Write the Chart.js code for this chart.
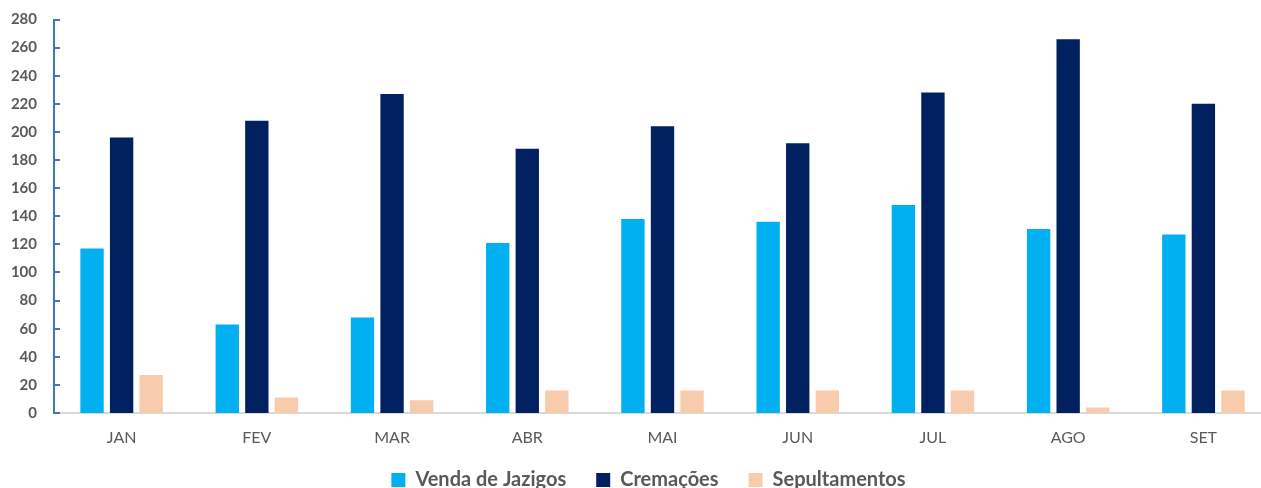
<!DOCTYPE html>
<html>
<head>
<meta charset="utf-8">
<script src="https://cdn.jsdelivr.net/npm/chart.js@4.4.0/dist/chart.umd.min.js"></script>
<style>
  html, body { margin: 0; padding: 0; background: #ffffff; overflow: hidden; }
  #wrap { position: relative; width: 1271px; height: 488px; }
</style>
</head>
<body>
<div id="wrap"><canvas id="chart"></canvas></div>
<script>
// Data ------------------------------------------------------------------------------

const MONTHS = ['JAN', 'FEV', 'MAR', 'ABR', 'MAI', 'JUN', 'JUL', 'AGO', 'SET'];

const VENDA_JAZIGOS = [117, 63, 68, 121, 138, 136, 148, 131, 127];
const CREMACOES = [196, 208, 227, 188, 204, 192, 228, 266, 220];
const SEPULTAMENTOS = [27, 11, 9, 16, 16, 16, 16, 4, 16];

const Y_MIN = 0;
const Y_MAX = 280;
const Y_STEP = 20;

// Styles ----------------------------------------------------------------------------

const FONT = 'Lato, "Open Sans", sans-serif';
const TEXT_GRAY = '#595959';
const AXIS_BLUE = '#4472C4';

const LEGEND_HEIGHT = 35;
const LEGEND_TOP = 440;
const LEGEND_SHIFT_X = 13;

// y axis tick marks drawn on the inside of the axis line
const innerTicks = {
    id: 'innerTicks',
    afterDraw: function (chart) {
        let y = chart.scales.y;
        let ctx = chart.ctx;
        ctx.save();
        ctx.strokeStyle = AXIS_BLUE;
        ctx.lineWidth = 2;
        y.ticks.forEach(function (t) {
            let py = Math.round(y.getPixelForValue(t.value));
            ctx.beginPath();
            ctx.moveTo(y.right, py);
            ctx.lineTo(y.right + 6, py);
            ctx.stroke();
        });
        ctx.restore();
    }
};

// small legend box in the layout, drawn a bit lower and to the right
const legendTweak = {
    id: 'legendTweak',
    beforeInit: function (chart) {
        let lg = chart.legend;
        let fit = lg.fit;
        lg.fit = function () {
            fit.call(this);
            this.height = LEGEND_HEIGHT;
        };
        let draw = lg.draw;
        lg.draw = function () {
            let saved = { top: this.top, left: this.left, right: this.right, bottom: this.bottom };
            this.top = LEGEND_TOP;
            this.bottom = chart.height;
            this.left += LEGEND_SHIFT_X;
            this.right += LEGEND_SHIFT_X;
            draw.apply(this, arguments);
            Object.assign(this, saved);
        };
    }
};

let data = {
    labels: MONTHS,
    datasets: [
        { label: 'Venda de Jazigos', data: VENDA_JAZIGOS, backgroundColor: '#00B0F0' },
        { label: 'Cremações', data: CREMACOES, backgroundColor: '#002060' },
        { label: 'Sepultamentos', data: SEPULTAMENTOS, backgroundColor: '#F8CBAD' }
    ]
};

new Chart(document.getElementById('chart'), {
    type: 'bar',
    data: data,
    plugins: [innerTicks, legendTweak],
    options: {
        responsive: true,
        maintainAspectRatio: false,
        animation: false,
        layout: { padding: { top: 19.5, right: 0, bottom: 0, left: 0 } },
        datasets: {
            bar: { categoryPercentage: 0.656, barPercentage: 0.79, borderWidth: 0 }
        },
        scales: {
            x: {
                grid: { display: false, drawTicks: false },
                border: { color: '#D9D9D9', width: 2 },
                ticks: { color: TEXT_GRAY, font: { family: FONT, size: 16 }, padding: 15 },
                afterFit: function (s) { s.height = 40; }
            },
            y: {
                min: Y_MIN,
                max: Y_MAX,
                grid: { display: false, drawTicks: false },
                border: { color: AXIS_BLUE, width: 2 },
                ticks: {
                    stepSize: Y_STEP,
                    color: TEXT_GRAY,
                    font: { family: FONT, size: 15, weight: 'bold' },
                    padding: 17
                },
                afterFit: function (s) {
                    s.width = 54;
                    s.paddingTop = 0;
                }
            }
        },
        plugins: {
            tooltip: { enabled: false },
            legend: {
                position: 'bottom',
                labels: {
                    color: TEXT_GRAY,
                    font: { family: FONT, size: 20, weight: 'bold' },
                    boxWidth: 14,
                    boxHeight: 14,
                    padding: 30
                }
            }
        }
    }
});
</script>
</body>
</html>
